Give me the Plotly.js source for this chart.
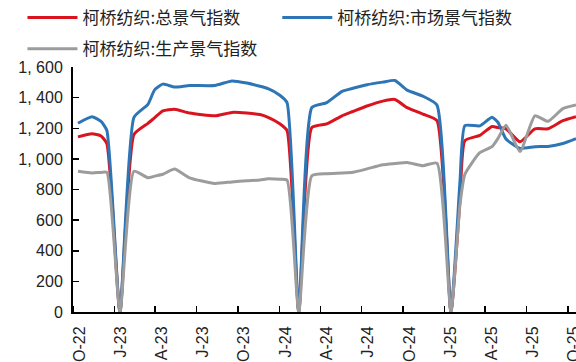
<!DOCTYPE html>
<html>
<head>
<meta charset="utf-8">
<script src="https://cdn.plot.ly/plotly-3.0.1.min.js"></script>
<style>html,body{margin:0;padding:0;background:#fff;}#chart{width:576px;height:362px;}</style>
</head>
<body>
<div id="chart"></div>
<script>
// ---- data ----
const dates = [
  '2022-10-12','2022-11-12','2022-12-02','2022-12-15','2023-01-13','2023-02-13','2023-03-16','2023-03-31',
  '2023-04-18','2023-05-14','2023-06-16','2023-08-11','2023-09-18','2023-10-21','2023-11-19','2023-12-07',
  '2024-01-02','2024-01-18','2024-02-13','2024-03-13','2024-04-15','2024-05-19','2024-06-12','2024-07-13',
  '2024-08-17','2024-09-13','2024-10-10','2024-11-14','2024-12-15','2025-01-15','2025-02-04','2025-02-15',
  '2025-03-20','2025-04-16','2025-04-29','2025-05-17','2025-06-17','2025-07-20','2025-08-18','2025-09-20',
  '2025-10-19'
];
const totalIndex = [
  1144,1165,1150,1100,0,1160,1233,1270,
  1314,1325,1300,1282,1304,1300,1290,1272,
  1230,1186,0,1205,1229,1282,1310,1346,
  1378,1389,1335,1293,1250,0,730,1120,
  1154,1212,1205,1197,1112,1197,1197,1250,
  1276
];
const marketIndex = [
  1233,1276,1245,1186,0,1272,1357,1453,
  1489,1470,1480,1480,1510,1496,1475,1459,
  1416,1368,0,1336,1368,1442,1462,1485,
  1502,1513,1450,1410,1352,0,850,1218,
  1216,1272,1240,1130,1069,1080,1082,1101,
  1133
];
const productionIndex = [
  920,909,912,912,0,920,877,888,
  900,934,877,840,850,857,862,870,
  867,862,0,890,904,908,913,935,
  962,970,977,956,973,0,700,900,
  1041,1080,1133,1220,1048,1282,1246,1329,
  1352
];
const seriesNames = ['柯桥纺织:总景气指数','柯桥纺织:市场景气指数','柯桥纺织:生产景气指数'];
const tickDates = ['2022-10-01','2023-01-01','2023-04-01','2023-07-01','2023-10-01','2024-01-01','2024-04-01',
  '2024-07-01','2024-10-01','2025-01-01','2025-04-01','2025-07-01','2025-10-01'];
const labelDates = ['2022-10-15','2023-01-15','2023-04-15','2023-07-15','2023-10-15','2024-01-15','2024-04-15',
  '2024-07-15','2024-10-15','2025-01-15','2025-04-15','2025-07-15','2025-10-15'];
const tickLabels = ['O-22','J-23','A-23','J-23','O-23','J-24','A-24','J-24','O-24','J-25','A-25','J-25','O-25'];
const yTickVals = [0,200,400,600,800,1000,1200,1400,1600];
const yTickText = ['0','200','400','600','800','1, 000','1, 200','1, 400','1, 600'];

const colors = ['#DA141F','#2E75B6','#9C9C9C'];
const legendIds = ['legend','legend2','legend3'];
const mk = (y, i) => ({
  x: dates, y: y, type: 'scatter', mode: 'lines', name: seriesNames[i],
  line: {color: colors[i], width: 3, shape: 'spline', smoothing: 0.5},
  legend: legendIds[i]
});
const traces = [mk(totalIndex,0), mk(marketIndex,1), mk(productionIndex,2)];

const tickFont = {family: '"Liberation Sans", Arial, sans-serif', size: 16, color: '#222'};
const legFont = {family: '"Noto Sans CJK SC", sans-serif', size: 17, color: '#222'};
const legBase = (x, y) => ({orientation: 'h', xref: 'container', yref: 'container', x: x, y: y,
  xanchor: 'left', yanchor: 'top', font: legFont, itemwidth: 50, bgcolor: 'rgba(0,0,0,0)'});
const layout = {
  width: 576, height: 362,
  margin: {l: 73, r: 0, t: 62, b: 50},
  paper_bgcolor: '#fff', plot_bgcolor: '#fff',
  showlegend: true,
  legend: legBase(0.039, 1.0),
  legend2: legBase(0.4814, 1.0),
  legend3: legBase(0.039, 0.914),
  xaxis: {
    type: 'date', range: ['2022-10-01','2025-10-19'],
    showgrid: false, zeroline: false, showline: true, linecolor: '#000', linewidth: 2,
    tickmode: 'array', tickvals: labelDates, ticktext: tickLabels, ticks: '', tickangle: -90,
    tickfont: tickFont, ticklabelstandoff: 6, ticklabeloverflow: 'allow',
    minor: {tickmode: 'array', tickvals: tickDates, ticks: 'inside', ticklen: 6, tickwidth: 1.5, tickcolor: '#000', showgrid: false}
  },
  yaxis: {
    range: [0,1600], showgrid: false, zeroline: false, showline: true, linecolor: '#000', linewidth: 2,
    tickmode: 'array', tickvals: yTickVals, ticktext: yTickText, ticklabelstandoff: 5,
    ticks: 'inside', ticklen: 6, tickwidth: 1.5, tickcolor: '#000', tickfont: tickFont
  }
};
Plotly.newPlot('chart', traces, layout, {staticPlot: true, displayModeBar: false});
</script>
</body>
</html>
